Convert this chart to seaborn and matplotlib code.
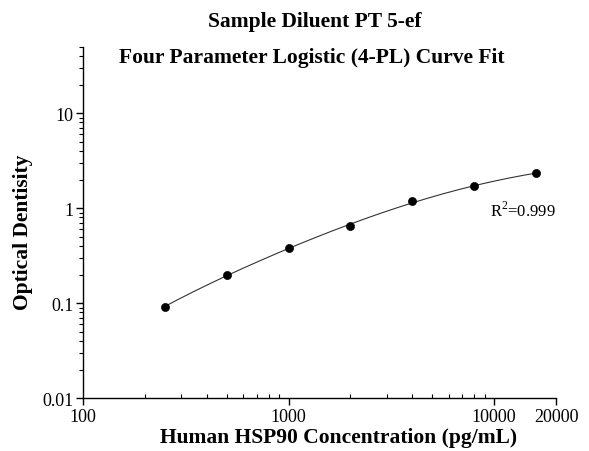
import numpy as np
import pandas as pd
import matplotlib.pyplot as plt
import seaborn as sns
from matplotlib.ticker import LogLocator, NullFormatter, FixedLocator, FixedFormatter

# Standard curve data
conc = [250, 500, 1000, 2000, 4000, 8000, 16000]
od = [0.092, 0.197, 0.377, 0.656, 1.178, 1.71, 2.345]

title_lines = ["Sample Diluent PT 5-ef", "Four Parameter Logistic (4-PL) Curve Fit"]
x_label = "Human HSP90 Concentration (pg/mL)"
y_label = "Optical Dentisity"
r2_text = "R$^2$=0.999"
x_ticks = [100, 1000, 10000, 20000]
x_ticklabels = ["100", "1000", "10000", "20000"]
y_ticks = [0.01, 0.1, 1, 10]
y_ticklabels = ["0.01", "0.1", "1", "10"]


def fit_4pl(x, y):
    # y = d + (a - d) / (1 + (x/c)^b); grid over b, c, linear solve for a, d
    x = np.asarray(x, float)
    y = np.asarray(y, float)
    best = None
    for b in np.linspace(0.5, 2.0, 151):
        for logc in np.linspace(2.5, 6.0, 351):
            w = 1.0 / (1.0 + (x / 10 ** logc) ** b)
            A = np.column_stack([w, 1 - w])
            coef, *_ = np.linalg.lstsq(A, y, rcond=None)
            err = np.sum((np.log(A @ coef) - np.log(y)) ** 2) if np.all(A @ coef > 0) else np.inf
            if best is None or err < best[0]:
                best = (err, coef[0], b, 10 ** logc, coef[1])
    return best[1:]


a, b, c, d = fit_4pl(conc, od)
x_fit = np.logspace(np.log10(conc[0]), np.log10(conc[-1]), 200)
y_fit = d + (a - d) / (1 + (x_fit / c) ** b)

points = pd.DataFrame({"conc": conc, "od": od})
curve = pd.DataFrame({"conc": x_fit, "od": y_fit})

sns.set_style("ticks")
plt.rcParams["font.family"] = ["Liberation Serif", "DejaVu Serif"]
plt.rcParams["mathtext.fontset"] = "custom"
plt.rcParams["mathtext.rm"] = "Liberation Serif"
plt.rcParams["text.color"] = "black"
plt.rcParams["axes.labelcolor"] = "black"
plt.rcParams["xtick.labelcolor"] = "black"
plt.rcParams["ytick.labelcolor"] = "black"

fig = plt.figure(figsize=(5.89, 4.52), dpi=100)
ax = fig.add_axes([0.141, 0.117, 0.803, 0.777])

sns.lineplot(data=curve, x="conc", y="od", ax=ax, color="#333333", lw=0.8)
sns.scatterplot(data=points, x="conc", y="od", ax=ax, color="black", s=34,
                edgecolor="black", zorder=3)

ax.set_xscale("log")
ax.set_yscale("log")
ax.set_xlim(100, 20000)
ax.set_ylim(0.01, 50)

ax.xaxis.set_major_locator(FixedLocator(x_ticks))
ax.xaxis.set_major_formatter(FixedFormatter(x_ticklabels))
ax.xaxis.set_minor_locator(LogLocator(base=10, subs=np.arange(2, 10)))
ax.xaxis.set_minor_formatter(NullFormatter())
ax.yaxis.set_major_locator(FixedLocator(y_ticks))
ax.yaxis.set_major_formatter(FixedFormatter(y_ticklabels))
ax.yaxis.set_minor_locator(LogLocator(base=10, subs=np.arange(2, 10)))
ax.yaxis.set_minor_formatter(NullFormatter())

ax.tick_params(axis="both", which="major", labelsize=13, length=5, width=1, color="black", pad=2)
ax.tick_params(axis="both", which="minor", length=3, width=0.8, color="black")
ax.tick_params(axis="x", which="minor", direction="in")

for side in ["top", "right"]:
    ax.spines[side].set_visible(False)
for side in ["left", "bottom"]:
    ax.spines[side].set_linewidth(1.0)
    ax.spines[side].set_color("black")

ax.set_xlabel(x_label, fontsize=15.5, fontweight="bold")
ax.set_ylabel(y_label, fontsize=15.5, fontweight="bold")
ax.xaxis.set_label_coords(0.54, -0.083)
ax.yaxis.set_label_coords(-0.105, 0.475)

fig.text(0.535, 0.951, title_lines[0], ha="center", va="center", fontsize=15.5, fontweight="bold")
fig.text(0.53, 0.872, title_lines[1], ha="center", va="center", fontsize=15.5, fontweight="bold")

ax.text(9600, 0.96, r2_text, fontsize=12, ha="left", va="center")

fig.savefig("out.png", dpi=100)
